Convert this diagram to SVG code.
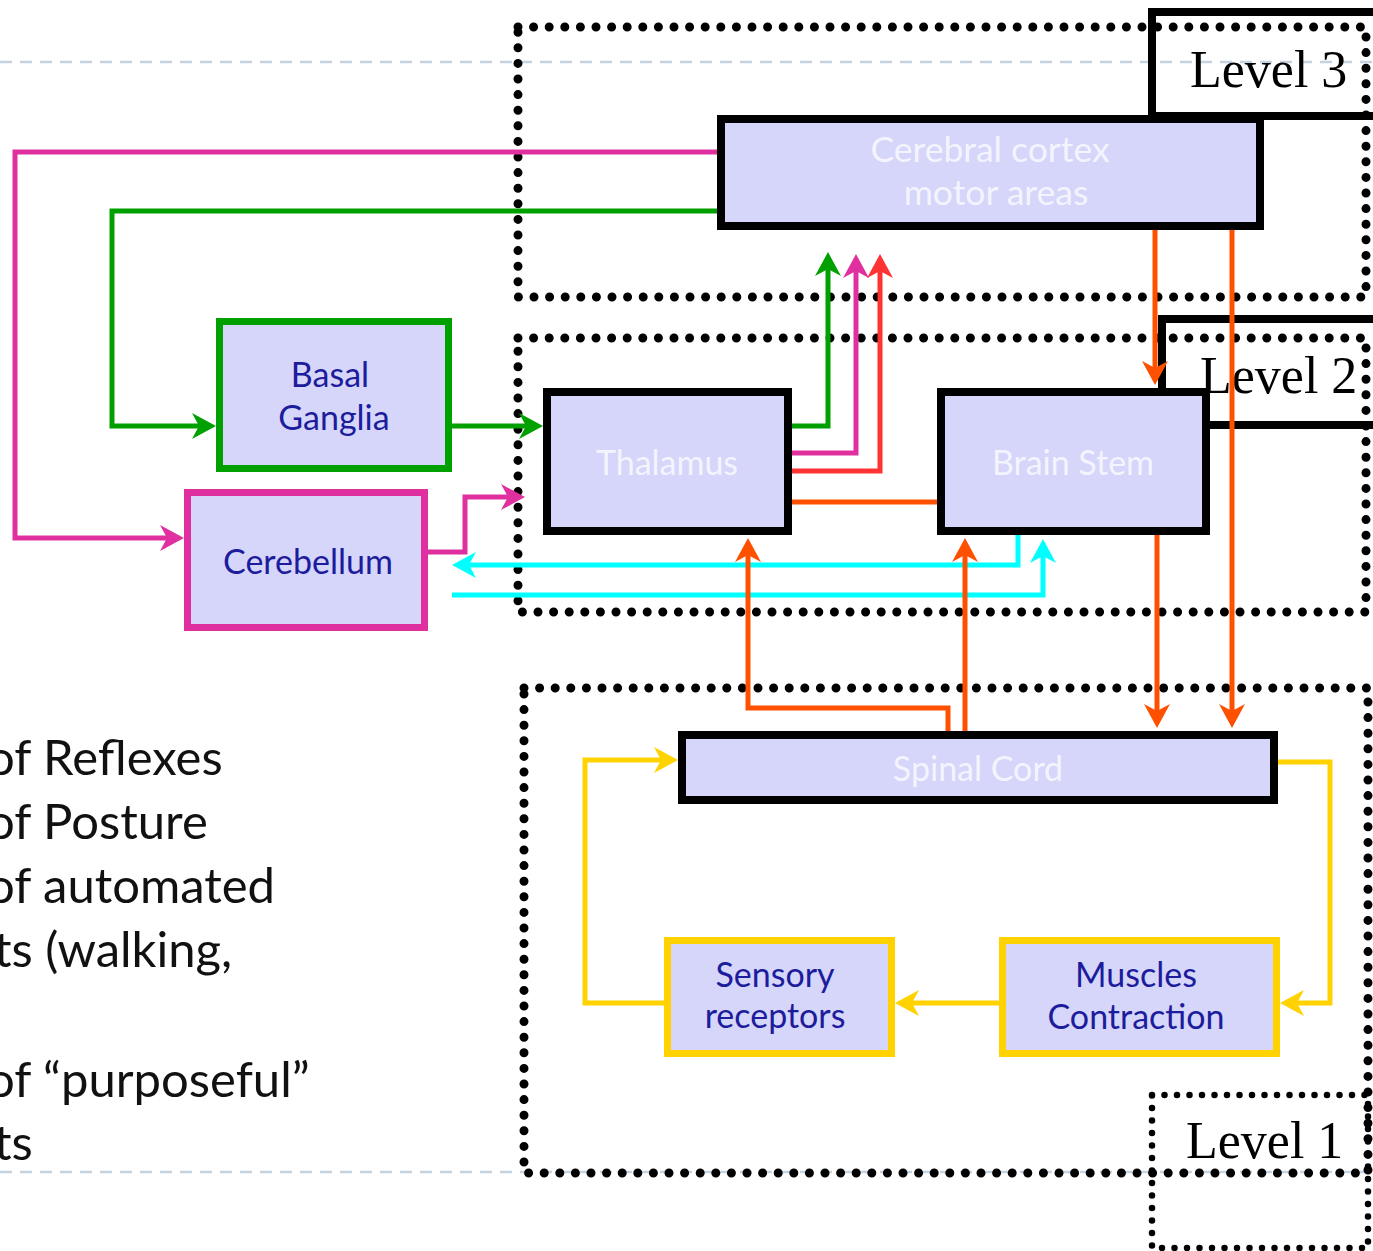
<svg xmlns="http://www.w3.org/2000/svg" width="1373" height="1251" viewBox="0 0 1373 1251">
<defs>
<style>
.dash{stroke:#c5d3e0;stroke-width:2.5;stroke-dasharray:12 8;fill:none}
.dot{fill:none;stroke:#000;stroke-width:9;stroke-dasharray:0 15.6;stroke-linecap:round;stroke-linejoin:round}
.dots{fill:none;stroke:#000;stroke-width:6.5;stroke-dasharray:0 12.5;stroke-linecap:round;stroke-linejoin:round}
.lbl{fill:none;stroke:#000;stroke-width:8}
.lv{font-family:"Liberation Serif",serif;font-size:52px;fill:#000}
.box{fill:#d5d6fa;stroke-width:8}
.k{stroke:#000}
.g{stroke:#00a000;stroke-width:7}
.p{stroke:#e030a0;stroke-width:7}
.y{stroke:#ffd200;stroke-width:7}
.wt{font-family:Lato,"Open Sans",sans-serif;font-size:34px;fill:#f4f4ff;text-anchor:middle}
.bt{font-family:Lato,"Open Sans",sans-serif;font-size:34px;fill:#1c1c9c;text-anchor:middle}
.lt{font-family:Lato,"Open Sans",sans-serif;font-size:49px;fill:#111}
.c{fill:none;stroke-width:5}
</style>
<marker id="aG" viewBox="0 0 24 26" refX="15" refY="13" markerWidth="24" markerHeight="26" markerUnits="userSpaceOnUse" orient="auto"><path d="M0,0 L24,13 L0,26 L7,13 Z" fill="#00a000"/></marker>
<marker id="aP" viewBox="0 0 24 26" refX="15" refY="13" markerWidth="24" markerHeight="26" markerUnits="userSpaceOnUse" orient="auto"><path d="M0,0 L24,13 L0,26 L7,13 Z" fill="#e030a0"/></marker>
<marker id="aR" viewBox="0 0 24 26" refX="15" refY="13" markerWidth="24" markerHeight="26" markerUnits="userSpaceOnUse" orient="auto"><path d="M0,0 L24,13 L0,26 L7,13 Z" fill="#ff3333"/></marker>
<marker id="aO" viewBox="0 0 24 26" refX="15" refY="13" markerWidth="24" markerHeight="26" markerUnits="userSpaceOnUse" orient="auto"><path d="M0,0 L24,13 L0,26 L7,13 Z" fill="#ff5000"/></marker>
<marker id="aC" viewBox="0 0 24 26" refX="15" refY="13" markerWidth="24" markerHeight="26" markerUnits="userSpaceOnUse" orient="auto"><path d="M0,0 L24,13 L0,26 L7,13 Z" fill="#00ffff"/></marker>
<marker id="aY" viewBox="0 0 24 26" refX="15" refY="13" markerWidth="24" markerHeight="26" markerUnits="userSpaceOnUse" orient="auto"><path d="M0,0 L24,13 L0,26 L7,13 Z" fill="#ffd200"/></marker>
</defs>
<rect width="1373" height="1251" fill="#fff"/>
<g id="guides">
<line class="dash" x1="0" y1="62" x2="1373" y2="62"/>
<line class="dash" x1="0" y1="1172" x2="1373" y2="1172"/>
</g>
<g id="text-list">
<text class="lt" x="-13" y="775">of Reflexes</text>
<text class="lt" x="-13" y="839">of Posture</text>
<text class="lt" x="-13" y="903">of automated</text>
<text class="lt" x="-6" y="967">ts (walking,</text>
<text class="lt" x="-13" y="1097">of “purposeful”</text>
<text class="lt" x="-6" y="1160">ts</text>
</g>
<g id="level3">
<rect class="dot" x="518" y="27" width="848" height="270"/>
<rect class="lbl" x="1152" y="12" width="260" height="104"/>
<text class="lv" x="1190" y="87">Level 3</text>
</g>
<g id="level2">
<rect class="dot" x="518" y="338" width="848" height="274"/>
<rect class="lbl" x="1162" y="319" width="250" height="106"/>
<text class="lv" x="1200" y="393">Level 2</text>
</g>
<g id="level1">
<rect class="dot" x="524" y="688" width="844" height="485"/>
<rect class="dots" x="1152" y="1095" width="216" height="153"/>
<text class="lv" x="1186" y="1158">Level 1</text>
</g>
<g id="connectors">
<path class="c" stroke="#e030a0" d="M718,152 H15 V538 H175" marker-end="url(#aP)"/>
<path class="c" stroke="#00a000" d="M718,211 H112 V426 H207" marker-end="url(#aG)"/>
<path class="c" stroke="#00a000" d="M452,426 H534" marker-end="url(#aG)"/>
<path class="c" stroke="#00a000" d="M792,426 H828 V261" marker-end="url(#aG)"/>
<path class="c" stroke="#e030a0" d="M792,453 H856 V263" marker-end="url(#aP)"/>
<path class="c" stroke="#ff3333" d="M792,471 H880 V263" marker-end="url(#aR)"/>
<path class="c" stroke="#e030a0" d="M428,552 H465 V497 H516" marker-end="url(#aP)"/>
<path class="c" stroke="#00ffff" d="M1018,535 V565 H461" marker-end="url(#aC)"/>
<path class="c" stroke="#00ffff" d="M452,595 H1043 V548" marker-end="url(#aC)"/>
<path class="c" stroke="#ff5000" d="M792,502 H937"/>
<path class="c" stroke="#ff5000" d="M948,731 V708 H748 V547" marker-end="url(#aO)"/>
<path class="c" stroke="#ff5000" d="M965,731 V547" marker-end="url(#aO)"/>
<path class="c" stroke="#ff5000" d="M1155,230 V376" marker-end="url(#aO)"/>
<path class="c" stroke="#ff5000" d="M1157,535 V719" marker-end="url(#aO)"/>
<path class="c" stroke="#ff5000" d="M1232,230 V719" marker-end="url(#aO)"/>
<path class="c" stroke="#ffd200" d="M1278,762 H1330 V1003 H1289" marker-end="url(#aY)"/>
<path class="c" stroke="#ffd200" d="M999,1003 H904" marker-end="url(#aY)"/>
<path class="c" stroke="#ffd200" d="M664,1003 H585 V760 H669" marker-end="url(#aY)"/>
</g>
<g id="cerebral-cortex">
<rect class="box k" x="721" y="119" width="539" height="107"/>
<text class="wt" x="990" y="162" style="font-size:35.5px">Cerebral cortex</text>
<text class="wt" x="996" y="205" style="font-size:35.5px">motor areas</text>
</g>
<g id="basal-ganglia">
<rect class="box g" x="219.5" y="321.5" width="229" height="147"/>
<text class="bt" x="330" y="387">Basal</text>
<text class="bt" x="334" y="430">Ganglia</text>
</g>
<g id="cerebellum">
<rect class="box p" x="187.5" y="492.5" width="237" height="135"/>
<text class="bt" x="308" y="574">Cerebellum</text>
</g>
<g id="thalamus">
<rect class="box k" x="547" y="392" width="241" height="139"/>
<text class="wt" x="667" y="475">Thalamus</text>
</g>
<g id="brain-stem">
<rect class="box k" x="941" y="392" width="265" height="139"/>
<text class="wt" x="1073" y="475">Brain Stem</text>
</g>
<g id="spinal-cord">
<rect class="box k" x="682" y="735" width="592" height="65"/>
<text class="wt" x="978" y="781">Spinal Cord</text>
</g>
<g id="sensory-receptors">
<rect class="box y" x="667.5" y="940.5" width="224" height="113"/>
<text class="bt" x="775" y="987">Sensory</text>
<text class="bt" x="775" y="1028">receptors</text>
</g>
<g id="muscles-contraction">
<rect class="box y" x="1002.5" y="940.5" width="274" height="113"/>
<text class="bt" x="1136" y="987">Muscles</text>
<text class="bt" x="1136" y="1029">Contraction</text>
</g>
</svg>
